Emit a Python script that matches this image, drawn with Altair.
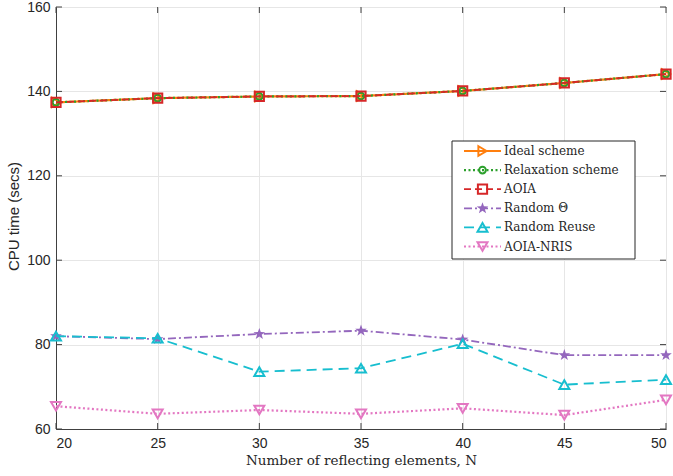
import altair as alt
import pandas as pd

# ---------------- data ----------------
N = [20, 25, 30, 35, 40, 45, 50]
ideal = [137.4, 138.4, 138.8, 138.9, 140.1, 142.0, 144.1]
relaxation = [137.4, 138.4, 138.8, 138.9, 140.1, 142.0, 144.1]
aoia = [137.4, 138.4, 138.8, 138.9, 140.1, 142.0, 144.1]
random_theta = [82.0, 81.3, 82.5, 83.3, 81.2, 77.5, 77.5]
random_reuse = [82.0, 81.5, 73.6, 74.4, 80.2, 70.5, 71.7]
aoia_nris = [65.4, 63.6, 64.5, 63.6, 64.9, 63.3, 66.9]

series_names = ["Ideal scheme", "Relaxation scheme", "AOIA", "Random Θ",
                "Random Reuse", "AOIA-NRIS"]
series_values = [ideal, relaxation, aoia, random_theta, random_reuse, aoia_nris]

x_ticks = [20, 25, 30, 35, 40, 45, 50]
y_ticks = [60, 80, 100, 120, 140, 160]

# ---------------- styles ----------------
STAR = ("M0,-1 L0.235,-0.324 L0.951,-0.309 L0.38,0.124 L0.588,0.809 "
        "L0,0.4 L-0.588,0.809 L-0.38,0.124 L-0.951,-0.309 L-0.235,-0.324 Z")
colors = ["#ff7f0e", "#2ca02c", "#d62728", "#9467bd", "#17becf", "#e377c2"]
dashes = [[1, 0], [2, 2.5], [7, 4], [8, 3, 2, 3], [10, 6], [2, 2.5]]
shapes = ["triangle-right", "circle", "square", STAR, "triangle-up", "triangle-down"]
sizes = [90, 45, 85, 150, 100, 100]
filled = [False, False, False, True, False, False]

W, H = 610, 422
AX = "#404040"

rows = []
for name, vals in zip(series_names, series_values):
    for n, v in zip(N, vals):
        rows.append({"series": name, "N": n, "value": v})
df = pd.DataFrame(rows)

xscale = alt.Scale(domain=[20, 50], nice=False)
yscale = alt.Scale(domain=[60, 160], nice=False)
x_axis = alt.Axis(values=x_ticks, title="Number of reflecting elements, N",
                  titleFont="DejaVu Serif", titleFontSize=13.5,
                  titleFontWeight="normal", titleY=24, titleBaseline="top",
                  labelPadding=7)
y_axis = alt.Axis(values=y_ticks, title="CPU time (secs)",
                  titleFont="Liberation Sans", titleFontSize=15,
                  titleFontWeight="normal", titleX=-42.5, titleY=209,
                  titleBaseline="middle", labelPadding=6)


def X(field):
    return alt.X(field, scale=xscale, axis=x_axis)


def Y(field):
    return alt.Y(field, scale=yscale, axis=y_axis)


layers = []
for i, name in enumerate(series_names):
    base = alt.Chart(df).transform_filter(alt.datum.series == name)
    line = base.mark_line(color=colors[i], strokeDash=dashes[i],
                          strokeWidth=2.2 if dashes[i][0] < 3 else 1.8).encode(
        x=X("N:Q"), y=Y("value:Q"))
    pts = base.mark_point(shape=shapes[i], size=sizes[i], filled=filled[i],
                          color=colors[i], strokeWidth=2, opacity=1).encode(
        x=X("N:Q"), y=Y("value:Q"))
    layers += [line, pts]

# inner ticks (MATLAB style)
xt = pd.DataFrame({"N": x_ticks})
yt = pd.DataFrame({"value": y_ticks})
layers += [
    alt.Chart(xt).mark_rule(color=AX, strokeWidth=1).encode(x=X("N:Q"), y=alt.value(H), y2=alt.value(H - 6)),
    alt.Chart(xt).mark_rule(color=AX, strokeWidth=1).encode(x=X("N:Q"), y=alt.value(0), y2=alt.value(6)),
    alt.Chart(yt).mark_rule(color=AX, strokeWidth=1).encode(y=Y("value:Q"), x=alt.value(0), x2=alt.value(6)),
    alt.Chart(yt).mark_rule(color=AX, strokeWidth=1).encode(y=Y("value:Q"), x=alt.value(W), x2=alt.value(W - 6)),
]

# legend
one = alt.Data(values=[{"k": 0}])
layers.append(alt.Chart(one).mark_rect(fill="white", stroke="#262626", strokeWidth=1).encode(
    x=alt.value(396), x2=alt.value(579), y=alt.value(134), y2=alt.value(252)))
for i, name in enumerate(series_names):
    yy = 144 + 19.1 * i
    layers.append(alt.Chart(one).mark_rule(color=colors[i], strokeDash=dashes[i],
                                          strokeWidth=2.2 if dashes[i][0] < 3 else 1.8).encode(
        x=alt.value(408), x2=alt.value(445), y=alt.value(yy)))
    layers.append(alt.Chart(one).mark_point(shape=shapes[i], size=sizes[i], filled=filled[i],
                                           color=colors[i], strokeWidth=2, opacity=1).encode(
        x=alt.value(426.5), y=alt.value(yy)))
    layers.append(alt.Chart(one).mark_text(align="left", baseline="middle", font="DejaVu Serif",
                                          fontSize=12, color="#262626").encode(
        x=alt.value(448), y=alt.value(yy), text=alt.value(name)))

chart = alt.layer(*layers).properties(
    width=W, height=H,
    autosize=alt.AutoSizeParams(type="none"),
    padding={"left": 56, "top": 7, "right": 7, "bottom": 47},
    background="white",
).configure_view(stroke=AX, strokeWidth=1).configure_axis(
    grid=True, gridColor="#e6e6e6", gridWidth=1, domainColor=AX, domainWidth=1,
    ticks=False, labelFont="Liberation Sans", labelFontSize=14, labelColor="#262626",
    titleColor="#262626",
)

chart.save("out.html", embed_options={"renderer": "svg", "actions": False})
